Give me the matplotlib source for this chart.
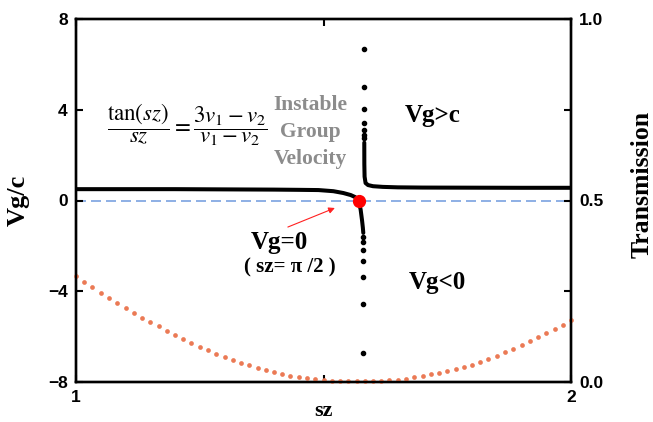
import matplotlib
matplotlib.use("Agg")
import matplotlib.pyplot as plt
import numpy as np

# Vg/c, branch left of the pole (drawn as a thick line)
left_sz = [1.0, 1.1, 1.2, 1.3, 1.4, 1.45, 1.49, 1.52, 1.54, 1.555, 1.564, 1.5708, 1.575, 1.578, 1.5795, 1.5804]
left_vg = [0.50, 0.50, 0.50, 0.49, 0.48, 0.47, 0.46, 0.41, 0.33, 0.24, 0.15, 0.0, -0.40, -0.90, -1.20, -1.43]
# sparse samples running down to -inf
tail_sz = [1.5804, 1.5804, 1.5804, 1.5804, 1.5804, 1.5804, 1.5804]
tail_vg = [-1.62, -1.84, -2.18, -2.65, -3.38, -4.56, -6.73]

# branch right of the pole
head_sz = [1.5824, 1.5824, 1.5824, 1.5824, 1.5824, 1.5824, 1.5824]
head_vg = [6.66, 4.99, 4.02, 3.43, 3.11, 2.89, 2.74]
right_sz = [1.5824, 1.5825, 1.5830, 1.585, 1.59, 1.60, 1.62, 1.65, 1.70, 1.80, 1.90, 2.0]
right_vg = [2.55, 1.60, 1.05, 0.77, 0.68, 0.63, 0.60, 0.58, 0.57, 0.565, 0.56, 0.56]

# transmission (right axis), one value per sample
trans_sz = [1.0, 1.017, 1.033, 1.05, 1.067, 1.083, 1.1, 1.117, 1.133, 1.15,
            1.167, 1.183, 1.2, 1.217, 1.233, 1.25, 1.267, 1.283, 1.3, 1.317,
            1.333, 1.35, 1.367, 1.383, 1.4, 1.417, 1.433, 1.45, 1.467, 1.483,
            1.5, 1.517, 1.533, 1.55, 1.567, 1.583, 1.6, 1.617, 1.633, 1.65,
            1.667, 1.683, 1.7, 1.717, 1.733, 1.75, 1.767, 1.783, 1.8, 1.817,
            1.833, 1.85, 1.867, 1.883, 1.9, 1.917, 1.933, 1.95, 1.967, 1.983, 2.0]
trans = [0.293, 0.276, 0.261, 0.246, 0.232, 0.219, 0.205, 0.191, 0.177, 0.165,
         0.154, 0.141, 0.130, 0.119, 0.107, 0.097, 0.087, 0.078, 0.069, 0.061,
         0.053, 0.046, 0.039, 0.033, 0.028, 0.022, 0.017, 0.013, 0.010, 0.007,
         0.006, 0.004, 0.003, 0.002, 0.002, 0.002, 0.003, 0.004, 0.005, 0.006,
         0.008, 0.013, 0.017, 0.021, 0.025, 0.030, 0.036, 0.041, 0.048, 0.055,
         0.063, 0.072, 0.082, 0.092, 0.103, 0.113, 0.123, 0.134, 0.145, 0.158, 0.171]

SERIF = "Liberation Serif"
SANS = "Liberation Sans"
plt.rcParams["mathtext.fontset"] = "stix"

fig = plt.figure(figsize=(6.53, 4.22), dpi=100)
ax = fig.add_axes([76 / 653, 1 - 382 / 422, 495 / 653, 363 / 422])
ax2 = ax.twinx()

ax.axhline(0, color="#7aa2e0", lw=1.2, linestyle=(0, (6, 3)), zorder=1)
ax.plot(left_sz, left_vg, color="black", lw=2.9, solid_capstyle="round", zorder=3)
ax.plot(right_sz, right_vg, color="black", lw=2.9, solid_capstyle="round", zorder=3)
ax.plot(tail_sz, tail_vg, "o", color="black", ms=3, zorder=3)
ax.plot(head_sz, head_vg, "o", color="black", ms=3, zorder=3)
ax.plot([np.pi / 2], [0], "o", color="#ff0000", ms=8.5, zorder=4)

ax2.plot(trans_sz, trans, "o", color="#eb7a55", ms=3.4, mec="none", clip_on=False, zorder=2)

ax.set_xlim(1, 2)
ax.set_ylim(-8, 8)
ax2.set_ylim(0, 1)
ax.set_xticks([1, 2])
ax.set_xticks([1.5], minor=True)
ax.set_yticks([-8, -4, 0, 4, 8])
ax2.set_yticks([0, 0.5, 1.0])
ax2.set_yticks([0.25, 0.75], minor=True)
ax2.set_yticklabels(["0.0", "0.5", "1.0"])

for a in (ax, ax2):
    for s in a.spines.values():
        s.set_linewidth(1.7)
    a.tick_params(which="both", direction="in", width=1.5, length=5, top=True, pad=6)
    for lab in a.get_xticklabels() + a.get_yticklabels():
        lab.set_fontfamily(SANS)
        lab.set_fontweight("bold")
        lab.set_fontsize(12.5)
ax.tick_params(axis="y", right=False, which="both")
ax2.tick_params(axis="y", left=False, which="both")

ax.set_xlabel("sz", fontfamily=SERIF, fontweight="bold", fontsize=16)
ax.xaxis.set_label_coords(0.5, -0.052)
ax.set_ylabel("Vg/c", fontfamily=SERIF, fontweight="bold", fontsize=19)
ax.yaxis.set_label_coords(-0.093, 0.5)
ax2.set_ylabel("Transmission", fontfamily=SERIF, fontweight="bold", fontsize=18.5)
ax2.yaxis.set_label_coords(1.12, 0.543)

ax.text(1.225, 3.35, r"$\dfrac{\tan(sz)}{sz}=\dfrac{3v_1-v_2}{v_1-v_2}$",
        fontsize=16.5, ha="center", va="center")
ax.text(1.473, 3.02, "Instable\nGroup\nVelocity", color="#8c8c8c", fontfamily=SERIF,
        fontweight="bold", fontsize=15.5, ha="center", va="center", linespacing=1.45)
ax.text(1.72, 3.75, "Vg>c", fontfamily=SERIF, fontweight="bold", fontsize=18,
        ha="center", va="center")
ax.text(1.73, -3.6, "Vg<0", fontfamily=SERIF, fontweight="bold", fontsize=18,
        ha="center", va="center")
ax.text(1.41, -1.85, "Vg=0", fontfamily=SERIF, fontweight="bold", fontsize=18,
        ha="center", va="center")
ax.text(1.432, -2.95, "( sz= π /2 )", fontfamily=SERIF,
        fontweight="bold", fontsize=15, ha="center", va="center")

ax.annotate("", xy=(1.523, -0.33), xytext=(1.428, -1.17),
            arrowprops=dict(arrowstyle="-|>", color="#ff2020", lw=0.8, mutation_scale=9,
                            shrinkA=0, shrinkB=0))

fig.savefig("out.png", dpi=100)
